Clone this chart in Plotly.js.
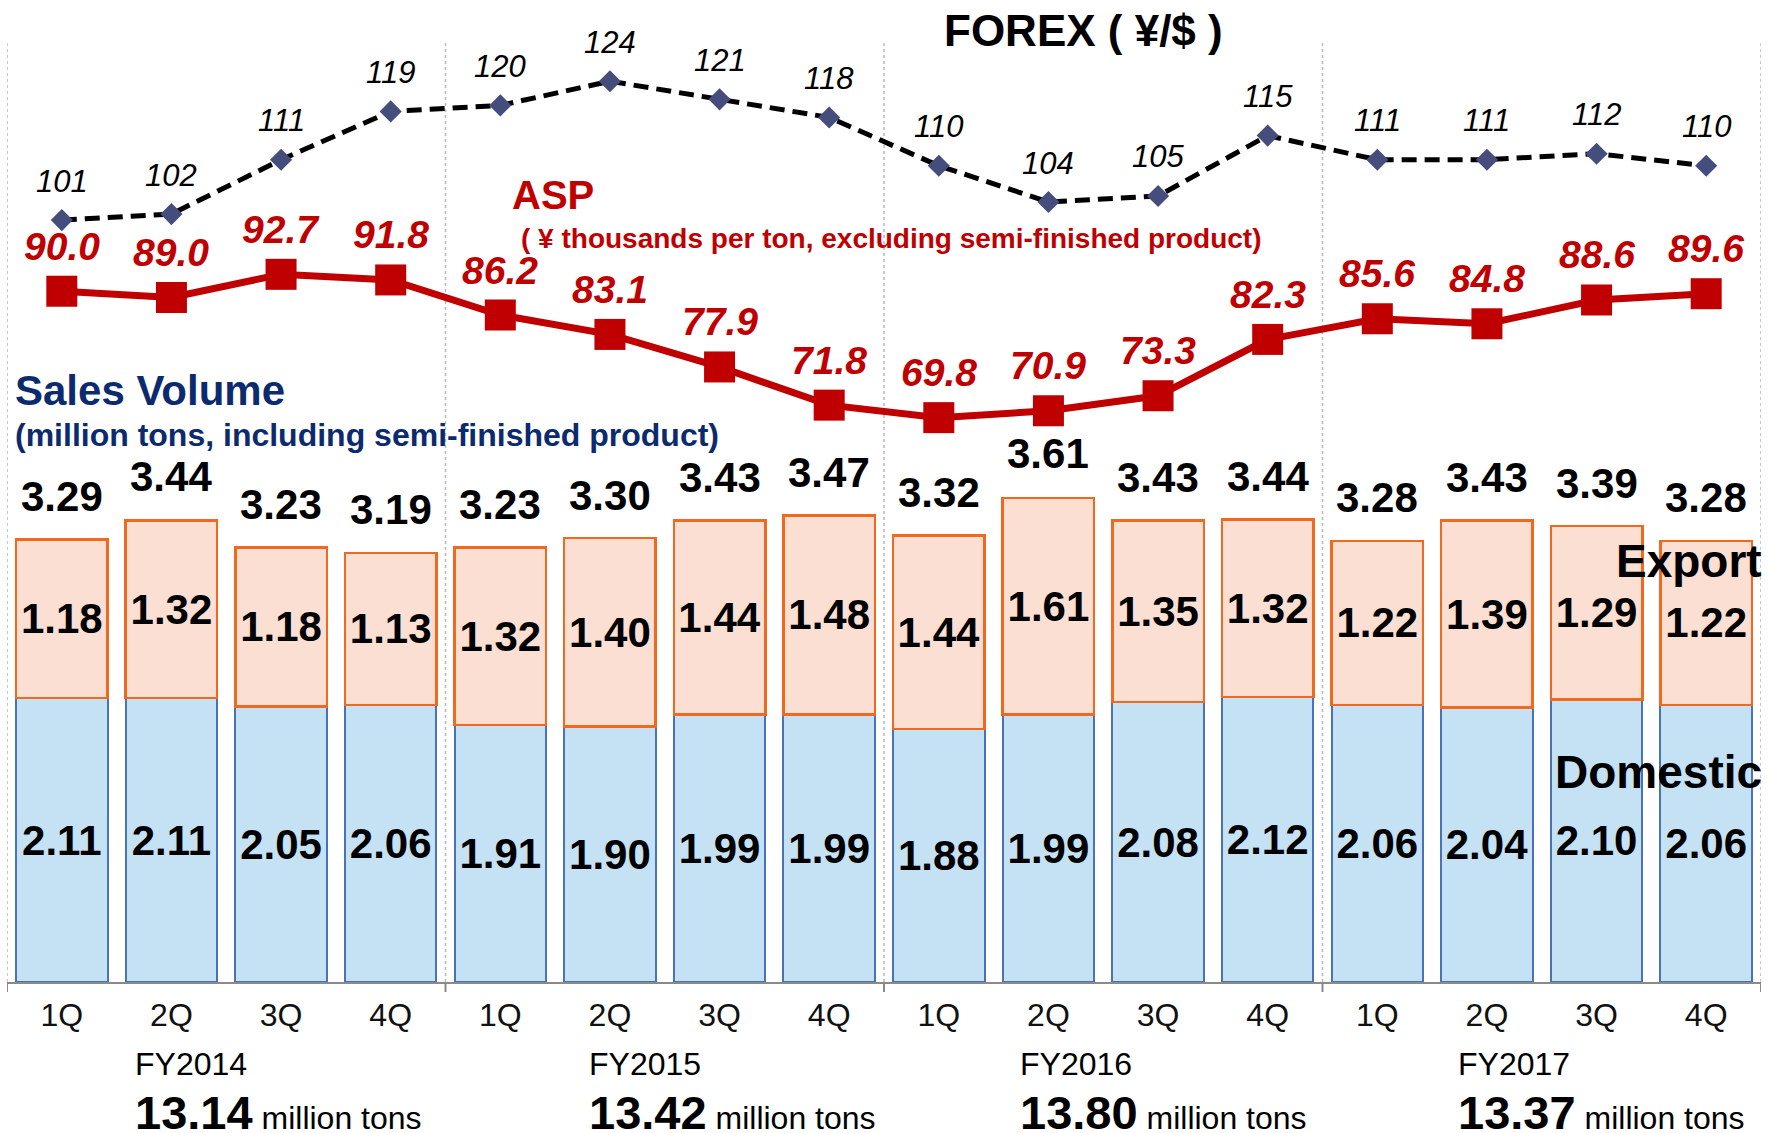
<!DOCTYPE html>
<html><head><meta charset="utf-8">
<script src="https://cdn.plot.ly/plotly-3.0.1.min.js"></script>
<style>body{margin:0;background:#fff}#chart{width:1770px;height:1133px}</style>
</head><body><div id="chart"></div>
<script>
const fiscalYears = ['FY2014','FY2015','FY2016','FY2017'];
const quarters = ['1Q','2Q','3Q','4Q'];
const yearTotals = ['13.14','13.42','13.80','13.37'];
const domestic = [2.11,2.11,2.05,2.06, 1.91,1.90,1.99,1.99, 1.88,1.99,2.08,2.12, 2.06,2.04,2.10,2.06];
const exportVol = [1.18,1.32,1.18,1.13, 1.32,1.40,1.44,1.48, 1.44,1.61,1.35,1.32, 1.22,1.39,1.29,1.22];
const totalVol = [3.29,3.44,3.23,3.19, 3.23,3.30,3.43,3.47, 3.32,3.61,3.43,3.44, 3.28,3.43,3.39,3.28];
const asp = [90.0,89.0,92.7,91.8, 86.2,83.1,77.9,71.8, 69.8,70.9,73.3,82.3, 85.6,84.8,88.6,89.6];
const forex = [101,102,111,119, 120,124,121,118, 110,104,105,115, 111,111,112,110];

const FONT = 'Liberation Sans, Arial, sans-serif';
// layout constant: left edge of each fiscal-year caption, in category units
const fyLabelX = [0.65, 4.79, 8.72, 12.72];

const cats = [];
const tickText = [];
fiscalYears.forEach(fy => quarters.forEach(q => { cats.push(fy + ' ' + q); tickText.push(q); }));

const traces = [
  {type:'bar', name:'Domestic', x:cats, y:domestic,
   marker:{color:'#c5e1f4', line:{color:'#4a72b8', width:2}},
   text:domestic.map(v=>'<b>'+v.toFixed(2)+'</b>'), textposition:'inside', insidetextanchor:'middle',
   constraintext:'none', textfont:{family:FONT, size:42, color:'#000'}, hoverinfo:'skip'},
  {type:'bar', name:'Export', x:cats, y:exportVol,
   marker:{color:'#fadfd2', line:{color:'#f0691f', width:2.5}},
   text:exportVol.map(v=>'<b>'+v.toFixed(2)+'</b>'), textposition:'inside', insidetextanchor:'middle',
   constraintext:'none', textfont:{family:FONT, size:42, color:'#000'}, hoverinfo:'skip'},
  {type:'scatter', name:'ASP', x:cats, y:asp, yaxis:'y2', mode:'lines+markers',
   line:{color:'#c00000', width:7}, marker:{symbol:'square', size:31, color:'#c00000'}, hoverinfo:'skip'},
  {type:'scatter', name:'FOREX', x:cats, y:forex, yaxis:'y3', mode:'lines+markers',
   line:{color:'#000', width:5, dash:'15px,8px'}, marker:{symbol:'diamond', size:17, color:'#454d7d'}, hoverinfo:'skip'}
];

const ann = [];
cats.forEach((c,i)=>{
  ann.push({x:c, y:totalVol[i], xref:'x', yref:'y', yshift:43, showarrow:false,
    text:'<b>'+totalVol[i].toFixed(2)+'</b>', font:{family:FONT, size:42, color:'#000'}});
  ann.push({x:c, y:asp[i], xref:'x', yref:'y2', yshift:45, showarrow:false,
    text:'<b><i>'+asp[i].toFixed(1)+'</i></b>', font:{family:FONT, size:39, color:'#c00000'}});
  ann.push({x:c, y:forex[i], xref:'x', yref:'y3', yshift:39, showarrow:false,
    text:'<i>'+forex[i]+'</i>', font:{family:FONT, size:31, color:'#000'}});
});
fiscalYears.forEach((fy,k)=>{
  ann.push({x:fyLabelX[k], xref:'x', y:-0.0835, yref:'paper', xanchor:'left', yanchor:'middle', showarrow:false,
    text:fy, font:{family:FONT, size:32, color:'#000'}});
  ann.push({x:fyLabelX[k], xref:'x', y:-0.1325, yref:'paper', xanchor:'left', yanchor:'middle', showarrow:false,
    text:'<span style="font-size:47px"><b>'+yearTotals[k]+'</b></span> million tons', font:{family:FONT, size:32, color:'#000'}});
});
ann.push({x:0.614, y:0.969, xref:'paper', yref:'paper', showarrow:false, xanchor:'center', yanchor:'middle',
  text:'<b>FOREX ( ¥/$ )</b>', font:{family:FONT, size:44, color:'#000'}});
ann.push({x:0.2868, y:0.8014, xref:'paper', yref:'paper', showarrow:false, xanchor:'left', yanchor:'middle',
  text:'<b>ASP</b>', font:{family:FONT, size:40, color:'#c00000'}});
ann.push({x:0.2919, y:0.7576, xref:'paper', yref:'paper', showarrow:false, xanchor:'left', yanchor:'middle',
  text:'<b>( ¥ thousands per ton, excluding semi-finished product)</b>', font:{family:FONT, size:28, color:'#c00000'}});
ann.push({x:0.0032, y:0.6022, xref:'paper', yref:'paper', showarrow:false, xanchor:'left', yanchor:'middle',
  text:'<b>Sales Volume</b>', font:{family:FONT, size:42, color:'#0c2a6e'}});
ann.push({x:0.0032, y:0.5574, xref:'paper', yref:'paper', showarrow:false, xanchor:'left', yanchor:'middle',
  text:'<b>(million tons, including semi-finished product)</b>', font:{family:FONT, size:32, color:'#0c2a6e'}});
ann.push({x:1.0017, y:0.4287, xref:'paper', yref:'paper', showarrow:false, xanchor:'right', yanchor:'middle',
  text:'<b>Export</b>', font:{family:FONT, size:46, color:'#000'}});
ann.push({x:1.0017, y:0.2138, xref:'paper', yref:'paper', showarrow:false, xanchor:'right', yanchor:'middle',
  text:'<b>Domestic</b>', font:{family:FONT, size:46, color:'#000'}});

const shapes = [];
[-0.5, 3.5, 7.5, 11.5, 15.5].forEach(xb=>{
  shapes.push({type:'line', xref:'x', yref:'paper', x0:xb, x1:xb, y0:0, y1:0.956, layer:'below',
    line:{color:'#b8b8b8', width:1.5, dash:'dot'}});
  shapes.push({type:'line', xref:'x', yref:'paper', x0:xb, x1:xb, y0:0, y1:-0.0102,
    line:{color:'#8a8a8a', width:2}});
});

const layout = {
  width:1770, height:1133, paper_bgcolor:'#fff', plot_bgcolor:'rgba(0,0,0,0)',
  margin:{l:7, r:9, t:0, b:151}, showlegend:false, barmode:'stack', bargap:0.165,
  font:{family:FONT},
  xaxis:{type:'category', range:[-0.5,15.5], showline:true, linecolor:'#8a8a8a', linewidth:2,
    ticks:'outside', ticklen:4, tickcolor:'rgba(0,0,0,0)', tickvals:cats, ticktext:tickText,
    tickfont:{family:FONT, size:32, color:'#111'}, showgrid:false, zeroline:false, fixedrange:true},
  yaxis:{range:[0,7.301], visible:false, fixedrange:true},
  yaxis2:{range:[-20.37,136.53], overlaying:'y', visible:false, fixedrange:true},
  yaxis3:{range:[-25.16,137.45], overlaying:'y', visible:false, fixedrange:true},
  annotations:ann, shapes:shapes
};
Plotly.newPlot('chart', traces, layout, {displayModeBar:false, staticPlot:true});
</script></body></html>
